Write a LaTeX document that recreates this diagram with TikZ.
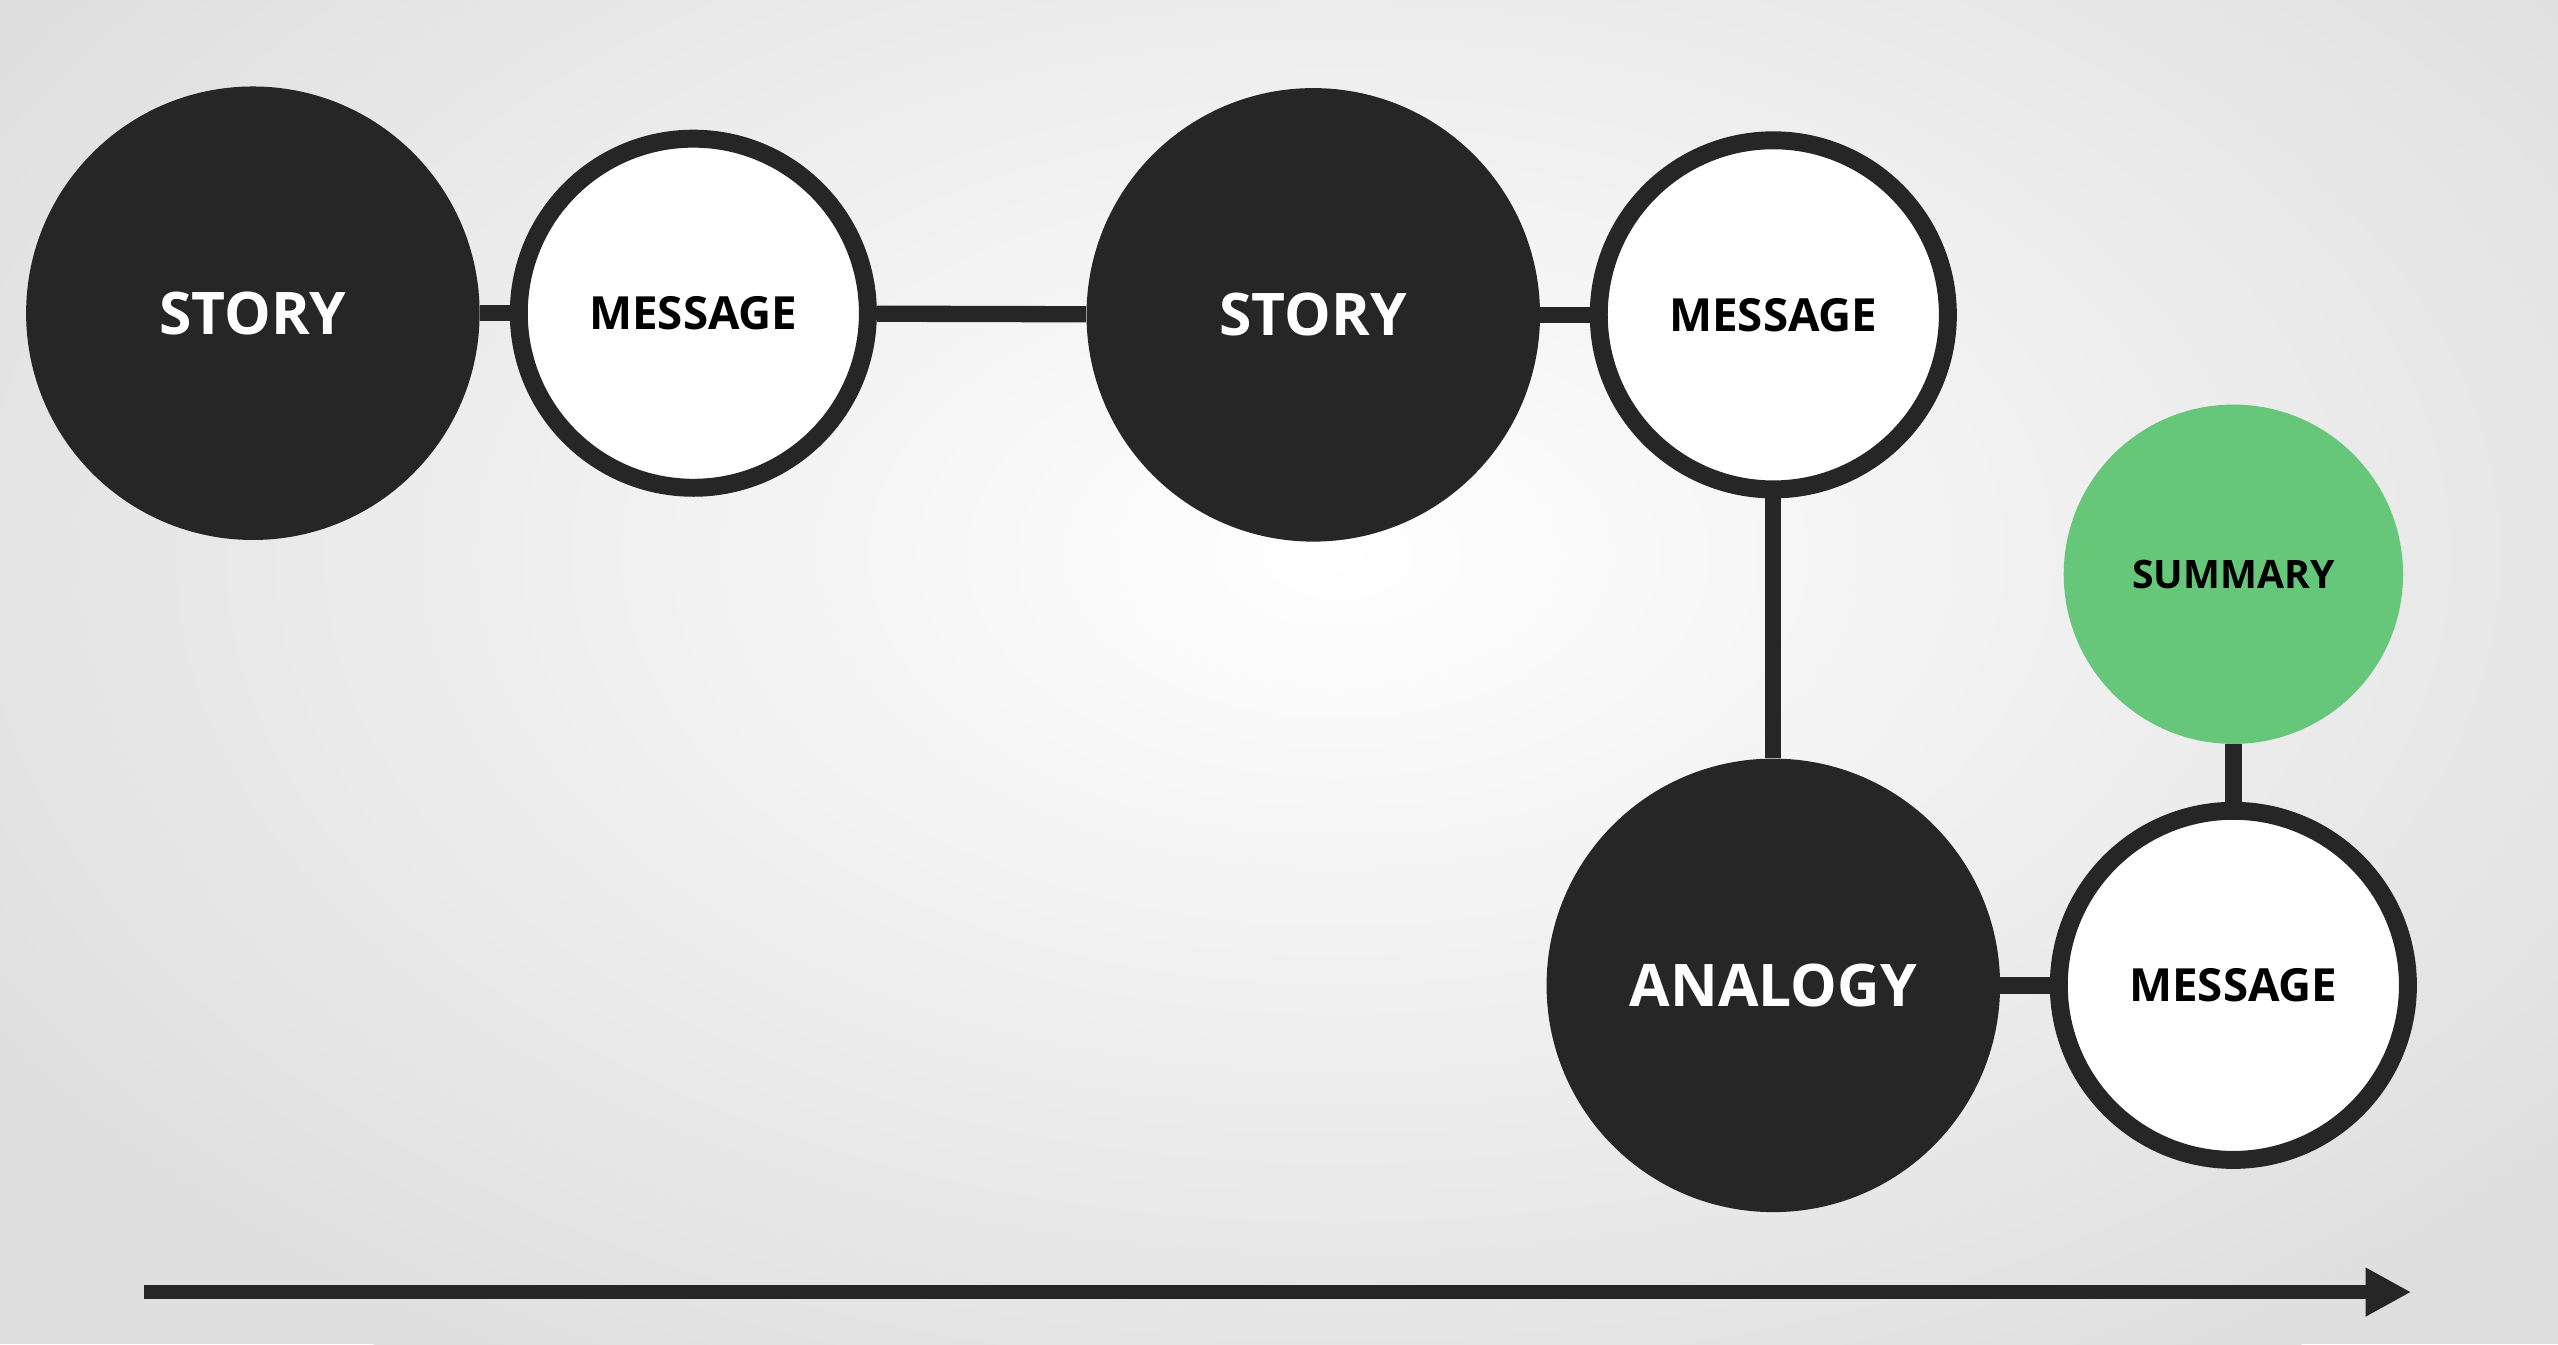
\documentclass[tikz,border=0pt]{standalone}
\usepackage{fontspec}
\setmainfont{Open Sans}
\usetikzlibrary{arrows.meta}
\definecolor{ink}{HTML}{262626}
\definecolor{sumgreen}{HTML}{66C67A}
\definecolor{paper}{HTML}{DEDEDE}
\begin{document}
\begin{tikzpicture}[x=1pt,y=-1pt,
  bigdot/.style={circle,fill=ink,draw=none,minimum size=278pt,inner sep=0pt,text=white,font=\bfseries\fontsize{36}{40}\selectfont},
  ring/.style={circle,fill=white,draw=ink,line width=11pt,minimum size=214pt,inner sep=0pt,text=black,font=\bfseries\fontsize{28}{30}\selectfont},
  greendot/.style={circle,fill=sumgreen,draw=none,minimum size=208pt,inner sep=0pt,text=black,font=\bfseries\fontsize{24}{30}\selectfont},
  link/.style={draw=ink,line width=10pt}]
\useasboundingbox (0,0) rectangle (1568,824);
\fill[paper] (0,0) rectangle (1568,824);
\shade[inner color=white,outer color=paper] (820,340) ellipse [x radius=1000pt, y radius=600pt];
\node[bigdot] (story1) at (155,192) {STORY};
\node[ring] (msg1) at (425,192) {MESSAGE};
\node[bigdot] (story2) at (805,193) {STORY};
\node[ring] (msg2) at (1087,193) {MESSAGE};
\node[bigdot] (analogy) at (1087,604) {ANALOGY};
\node[ring] (msg3) at (1369,604) {MESSAGE};
\node[greendot] (summary) at (1369,352) {SUMMARY};
\draw[link] (story1) -- (msg1);
\draw[link] (msg1) -- (story2);
\draw[link] (story2) -- (msg2);
\draw[link] (msg2) -- (analogy);
\draw[link] (analogy) -- (msg3);
\draw[link] (summary) -- (msg3);
\coordinate (tstart) at (88,792);
\coordinate (tend) at (1478,792);
\draw[draw=ink,line width=9pt,-{Triangle[length=28pt,width=28pt]}] (tstart) -- (tend);
\end{tikzpicture}
\end{document}
